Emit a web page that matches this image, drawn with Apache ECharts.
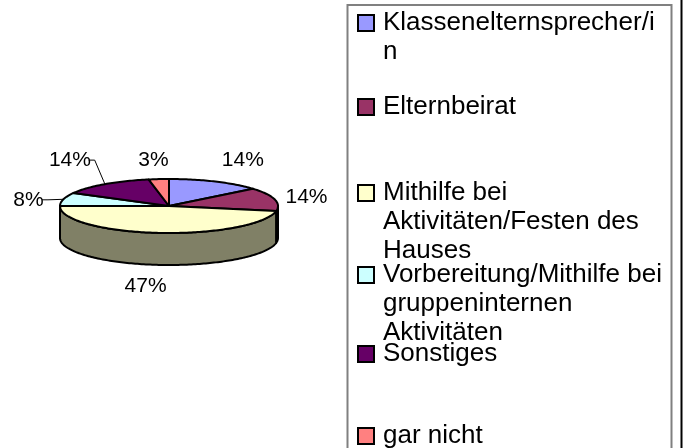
<!DOCTYPE html>
<html>
<head>
<meta charset="utf-8">
<script src="https://cdn.jsdelivr.net/npm/echarts@6/dist/echarts.min.js"></script>
<style>
  html, body { margin: 0; padding: 0; background: #fff; }
  #chart { width: 685px; height: 448px; }
</style>
</head>
<body>
<div id="chart"></div>
<script>
// Survey answers: how parents take part
const categories = [
  'Klassenelternsprecher/in',
  'Elternbeirat',
  'Mithilfe bei Aktivitäten/Festen des Hauses',
  'Vorbereitung/Mithilfe bei gruppeninternen Aktivitäten',
  'Sonstiges',
  'gar nicht'
];
// share of answers in percent
const shares = [14, 14, 47, 8, 14, 3];
// legend text, wrapped the way the legend box shows it
const legendText = [
  'Klassenelternsprecher/i\nn',
  'Elternbeirat',
  'Mithilfe bei\nAktivitäten/Festen des\nHauses',
  'Vorbereitung/Mithilfe bei\ngruppeninternen\nAktivitäten',
  'Sonstiges',
  'gar nicht'
];
const colors = ['#9999FF', '#993366', '#FFFFCC', '#CCFFFF', '#660066', '#FF8080'];

// ---- layout ----
const FONT = 'Liberation Sans, Arial, sans-serif';
const PIE = { cx: 169, cy: 206, rx: 109, ry: 27, depth: 32 };
// label nudges and leader lines per slice
const labelLayout = [
  { dx: 13, dy: 2 },
  { dx: -1, dy: 4 },
  { dx: -10, dy: -5 },
  { dx: -2, dy: 7, leader: true },
  { dx: -15, dy: -3, leader: true },
  { dx: -2, dy: 7 }
];
const LABEL_SIZE = 21;
const LEGEND_LINE = 29;
const legendRowY = [23, 107, 193, 275, 354, 436];

const total = shares.reduce((a, b) => a + b, 0);
const startShare = [];
shares.reduce((acc, v, i) => { startShare[i] = acc; return acc + v; }, 0);

function darken(hex, f) {
  const n = parseInt(hex.slice(1), 16);
  const r = Math.round(((n >> 16) & 255) * f);
  const g = Math.round(((n >> 8) & 255) * f);
  const b = Math.round((n & 255) * f);
  return 'rgb(' + r + ',' + g + ',' + b + ')';
}

// point on the top ellipse, angle clockwise from 12 o'clock
function rim(t, down) {
  return [PIE.cx + PIE.rx * Math.sin(t), PIE.cy - PIE.ry * Math.cos(t) + (down || 0)];
}

function arc(t0, t1, down) {
  const pts = [];
  const steps = Math.max(2, Math.ceil((t1 - t0) / 0.02));
  for (let k = 0; k <= steps; k++) pts.push(rim(t0 + (t1 - t0) * k / steps, down));
  return pts;
}

function makeRenderer(i) {
  return function (params, api) {
    const value = api.value(0);
    const a0 = startShare[i] / total * Math.PI * 2;
    const a1 = a0 + value / total * Math.PI * 2;
    const children = [];

    // front wall: the part of the slice facing the viewer (between 3 and 9 o'clock)
    const s0 = Math.max(a0, Math.PI / 2);
    const s1 = Math.min(a1, Math.PI * 3 / 2);
    if (s1 > s0) {
      const top = arc(s0, s1, 0);
      const bottom = arc(s0, s1, PIE.depth).reverse();
      children.push({
        type: 'polygon',
        z2: 1,
        shape: { points: top.concat(bottom) },
        style: { fill: darken(colors[i], 0.5), stroke: '#000', lineWidth: 2, lineJoin: 'round' }
      });
    }

    // top face
    children.push({
      type: 'polygon',
      z2: 2,
      shape: { points: [[PIE.cx, PIE.cy]].concat(arc(a0, a1, 0)) },
      style: { fill: colors[i], stroke: '#000', lineWidth: 2, lineJoin: 'round' }
    });

    // percentage label
    const m = (a0 + a1) / 2;
    const front = Math.cos(m) < 0 ? PIE.depth : 0;
    const lay = labelLayout[i];
    const lx = PIE.cx + (PIE.rx + 34) * Math.sin(m) + lay.dx;
    const ly = PIE.cy - (PIE.ry + 26) * Math.cos(m) + front + lay.dy;
    const text = value + '%';
    children.push({
      type: 'text',
      z2: 3,
      x: lx,
      y: ly,
      style: {
        text: text, fill: '#000', fontSize: LABEL_SIZE, fontFamily: FONT,
        align: 'center', verticalAlign: 'middle'
      }
    });

    if (lay.leader) {
      const halfW = text.length * LABEL_SIZE * 0.5 / 2 + 3;
      const edge = rim(m, 0);
      const startX = lx + halfW;
      children.push({
        type: 'polyline',
        z2: 3,
        shape: { points: [[startX, ly], [startX + 6, ly], edge] },
        style: { stroke: '#000', lineWidth: 1, fill: null }
      });
    }

    return { type: 'group', children: children };
  };
}

const series = categories.map((name, i) => ({
  type: 'custom',
  name: name,
  coordinateSystem: 'none',
  silent: true,
  animation: false,
  itemStyle: { color: colors[i] },
  data: [{ name: name, value: shares[i] }],
  renderItem: makeRenderer(i)
}));

// one legend per entry so every marker sits on the first text line
const legends = categories.map((name, i) => {
  const lines = legendText[i].split('\n').length;
  const lead = '\n'.repeat(lines - 1);
  return {
    data: [name],
    orient: 'vertical',
    left: 357,
    top: legendRowY[i] - (2 * lines - 1) * LEGEND_LINE / 2,
    padding: 0,
    itemGap: 0,
    itemWidth: 16,
    itemHeight: 16,
    icon: 'rect',
    selectedMode: false,
    itemStyle: { borderColor: '#000', borderWidth: 2 },
    formatter: () => lead + legendText[i],
    textStyle: {
      color: '#000',
      fontSize: 26,
      fontFamily: FONT,
      lineHeight: LEGEND_LINE,
      padding: [0, 0, 0, 4]
    }
  };
});

const chart = echarts.init(document.getElementById('chart'), null, { renderer: 'canvas' });
chart.setOption({
  animation: false,
  backgroundColor: '#fff',
  color: colors,
  legend: legends,
  graphic: [
    {
      type: 'rect',
      z: -1,
      shape: { x: 347.5, y: 5, width: 324, height: 500 },
      style: { fill: '#fff', stroke: '#808080', lineWidth: 2 }
    },
    {
      type: 'line',
      shape: { x1: 681.5, y1: 0, x2: 681.5, y2: 448 },
      style: { stroke: '#000', lineWidth: 2 }
    }
  ],
  series: series
});
</script>
</body>
</html>
